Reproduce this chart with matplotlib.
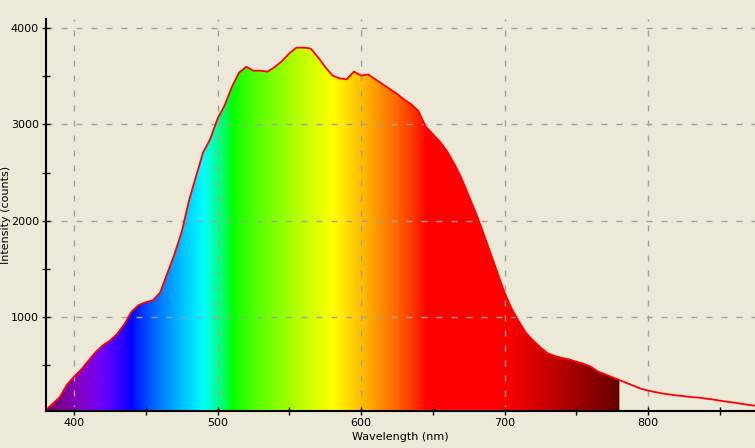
import numpy as np
import matplotlib
matplotlib.use("Agg")
import matplotlib.pyplot as plt

# Спектр: длина волны (нм) и интенсивность (отсчёты)
wavelength = list(range(380, 880, 5))
intensity = [
    25, 90, 160, 290, 375, 450, 540, 630, 700, 750,
    820, 920, 1050, 1120, 1150, 1170, 1250, 1450, 1650, 1880,
    2200, 2460, 2710, 2850, 3060, 3200, 3390, 3540, 3600, 3560,
    3560, 3550, 3600, 3660, 3740, 3800, 3800, 3790, 3700, 3600,
    3510, 3480, 3470, 3550, 3510, 3520, 3470, 3420, 3370, 3320,
    3260, 3210, 3140, 2980, 2900, 2820, 2720, 2590, 2440, 2260,
    2080, 1880, 1670, 1460, 1250, 1080, 950, 830, 750, 680,
    620, 590, 570, 555, 530, 510, 480, 430, 400, 370,
    340, 310, 280, 250, 230, 215, 200, 190, 180, 172,
    163, 158, 148, 138, 126, 115, 105, 93, 82, 72,
]
fill_end = 780  # до этой длины волны спектр закрашен цветом


def wavelength_rgb(wl, gamma=0.8):
    """Цвет видимого света для длины волны (алгоритм Bruton)."""
    if wl < 440:
        r, g, b = -(wl - 440) / 60, 0.0, 1.0
    elif wl < 490:
        r, g, b = 0.0, (wl - 440) / 50, 1.0
    elif wl < 510:
        r, g, b = 0.0, 1.0, -(wl - 510) / 20
    elif wl < 580:
        r, g, b = (wl - 510) / 70, 1.0, 0.0
    elif wl < 645:
        r, g, b = 1.0, -(wl - 645) / 65, 0.0
    else:
        r, g, b = 1.0, 0.0, 0.0
    if wl < 420:
        f = 0.3 + 0.7 * (wl - 380) / 40
    elif wl > 700:
        f = 0.3 + 0.7 * (780 - wl) / 80
    else:
        f = 1.0
    return [(c * f) ** gamma if c > 0 else 0.0 for c in (r, g, b)]


bg = "#ECE9D8"
fig = plt.figure(figsize=(7.55, 4.48), dpi=100, facecolor=bg)
ax = fig.add_axes([46 / 755, 37 / 448, 1 - 46 / 755, 392 / 448])
ax.set_facecolor(bg)

x = np.array(wavelength, dtype=float)
y = np.array(intensity, dtype=float)
ymin, ymax = 18, 4098

# цветная заливка под кривой до 780 нм
mask = x <= fill_end
poly = ax.fill_between(x[mask], ymin, y[mask], color="none", lw=0)
grad_wl = np.linspace(380, fill_end, 800)
grad = np.array([wavelength_rgb(w) for w in grad_wl])[np.newaxis, :, :]
img = ax.imshow(grad, extent=[380, fill_end, ymin, ymax], aspect="auto",
                origin="lower", zorder=1, interpolation="bilinear")
img.set_clip_path(poly.get_paths()[0], transform=ax.transData)

ax.plot(x, y, color="#ff0000", lw=1.3, zorder=3)

ax.set_xlim(380.5, 874.5)
ax.set_ylim(ymin, ymax)
ax.set_xticks([400, 500, 600, 700, 800])
ax.set_xticks(range(450, 900, 100), minor=True)
ax.set_yticks([1000, 2000, 3000, 4000])
ax.set_yticks([500, 1500, 2500, 3500], minor=True)
ax.tick_params(which="both", direction="inout", length=6, width=1,
               labelsize=8, pad=2, colors="black")
ax.grid(True, which="major", color="#a0a0a0", ls=(0, (4.3, 6.5)), lw=1,
        zorder=2)
ax.set_axisbelow(False)
for side in ("top", "right"):
    ax.spines[side].set_visible(False)
for side in ("left", "bottom"):
    ax.spines[side].set_linewidth(1.5)
    ax.spines[side].set_zorder(4)

ax.set_xlabel("Wavelength (nm)", fontsize=8)
ax.xaxis.set_label_coords(0.5, -0.054)
ax.set_ylabel("Intensity (counts)", fontsize=8)
ax.yaxis.set_label_coords(-0.05, 0.5)

fig.savefig("out.png", dpi=100, facecolor=bg)
